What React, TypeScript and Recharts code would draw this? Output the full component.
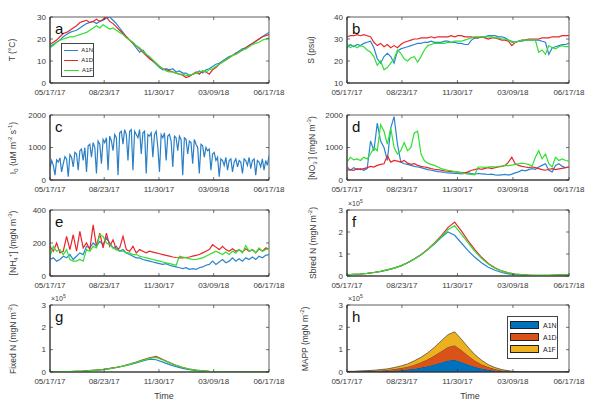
import React from "react";
import {
	ComposedChart,
	Line,
	Area,
	XAxis,
	YAxis,
	ReferenceArea,
	Legend,
} from "recharts";

const FONT = "'Liberation Sans', Arial, sans-serif";

const tickDays = [0, 98, 197, 296, 396];
const tickLabels = ["05/17/17", "08/23/17", "11/30/17", "03/09/18", "06/17/18"];
const seriesNames = ["A1N", "A1D", "A1F"];
const lineColors = ["#2a84d2", "#e8262b", "#2fe02f"];
const areaColors = ["#0072BD", "#D95319", "#EDB120"];

// 6-day sampling, days 0..396
const tempA1N = [16.5, 17.5, 18.5, 19.5, 21, 22, 23, 23.5, 24, 25, 26, 27, 27.5, 28, 27, 28, 28.5, 29.5, 30, 28.5, 27, 25, 23, 21, 19.5, 18, 16, 14, 15, 13, 11.5, 10, 8.5, 7, 6, 6.5, 6, 6.5, 5, 5.5, 4.5, 4.5, 3.5, 4, 4.5, 5.5, 4.5, 6, 6.5, 7.5, 8.5, 9, 10, 11, 12, 12.5, 13.5, 14.5, 15.5, 16, 17, 18, 19, 20, 21, 22, 23];
const tempA1D = [17.5, 18.5, 19.5, 21, 22.5, 23, 24, 25, 26, 27.5, 28, 28.5, 27.5, 28, 29, 28, 29, 30, 28, 27, 25.5, 24, 22.5, 21, 19.5, 18, 17, 15.5, 14, 12.5, 11, 10, 9, 7.5, 6.5, 6, 5.5, 5, 4.5, 4, 3.5, 2.5, 3, 4, 5, 4, 5.5, 5, 4, 6, 7, 8.5, 9.5, 10.5, 11.5, 12.5, 13.5, 14, 15, 16, 17, 18, 19, 20, 21, 21.5, 22];
const tempA1F = [16, 17, 18.5, 19.5, 20, 20.5, 21, 21, 21.5, 22, 22.5, 23, 24, 25, 26, 25, 26.5, 25.5, 24.5, 25, 24, 23, 22, 20.5, 19.5, 18.5, 17, 16, 14.5, 13, 12, 10.5, 9, 7.5, 6.5, 5.5, 5, 5, 4.5, 4, 4, 3.5, 3.5, 4, 4.5, 5, 5.5, 5, 6, 6.5, 7.5, 8.5, 9.5, 10.5, 11.5, 12.5, 13, 14, 15, 15.5, 16.5, 17.5, 18, 18.5, 19.5, 20, 20.5];

const salA1N = [26, 27.5, 26.5, 27.5, 27, 28, 28.5, 29, 26, 21, 19, 22, 23.5, 22, 19, 24.5, 25.5, 26, 26.5, 27, 27.5, 28, 28, 28.5, 28.5, 29, 28.5, 28.5, 28.5, 29, 29, 28.5, 28.5, 28, 28, 27.5, 27.5, 29.5, 30.5, 30.5, 31, 31, 31.5, 31.5, 31.5, 31, 31, 30.5, 29.5, 29, 28.5, 29, 29, 29.5, 29.5, 29.5, 29.5, 29.5, 29, 28.5, 23, 26, 26.5, 27, 27.5, 27.5, 28];
const salA1D = [31, 31.5, 31.5, 32, 31.5, 32, 31.5, 31, 28.5, 27, 28, 26.5, 27.5, 26, 27, 26, 27.5, 28.5, 29, 29.5, 30, 30, 30.5, 30.5, 30.5, 31, 30.5, 31, 31, 31, 31, 31.5, 31, 31.5, 31.5, 31, 31, 31, 30.5, 30.5, 31, 30.5, 30, 30.5, 30.5, 30, 29.5, 29.5, 29, 27, 28.5, 29, 29.5, 29.5, 30, 30, 30, 30, 30.5, 30.5, 30.5, 31, 31, 31, 31.5, 31.5, 31.5];
const salA1F = [28, 26, 27, 26, 27, 26.5, 25, 24, 22, 18, 20, 16, 17, 19, 21, 25, 23.5, 21, 20, 21.5, 22, 19.5, 22, 25, 27, 27.5, 28, 28, 28, 28, 28.5, 28.5, 29, 29, 29, 29.5, 30, 30.5, 31, 31, 31, 31, 31, 31, 30.5, 30.5, 30, 30, 29.5, 28.5, 28.5, 29, 29.5, 29.5, 29.5, 29.5, 29.5, 24, 25, 23, 27, 26, 25.5, 26.5, 27, 26.5, 26.5];

// 3-day sampling, days 0..396
const lightI0 = [
	350, 600, 450, 150, 620, 550, 680, 250, 500, 720, 650,
	100, 780, 700, 400, 850, 800, 300, 900, 950, 600,
	1000, 250, 1050, 1100, 700, 1150, 1000, 200, 1200, 1100,
	500, 1250, 1150, 1300, 300, 1350, 1200, 900, 1400, 1300,
	150, 1450, 1500, 1100, 1550, 1400, 600, 1500, 1550, 300,
	1500, 1400, 1300, 1550, 800, 1450, 1500, 200, 1400, 1350,
	1450, 700, 1400, 1500, 1000, 250, 1400, 1300, 1450, 600,
	1350, 1400, 1200, 400, 1350, 1300, 900, 1350, 1250, 150,
	1300, 1250, 800, 1200, 1150, 500, 1250, 1100, 1000, 200,
	1100, 1050, 700, 1000, 900, 950, 300, 800, 850, 600,
	700, 100, 650, 600, 450, 700, 300, 600, 650, 250,
	550, 650, 400, 600, 550, 200, 650, 600, 450, 700,
	350, 600, 650, 150, 600, 550, 400, 650, 300, 600, 450, 750,
];

const no3A1N = [400, 300, 380, 320, 350, 300, 350, 1200, 900, 1750, 1200, 1000, 600, 1600, 1950, 1100, 550, 500, 480, 450, 420, 400, 380, 350, 320, 300, 280, 260, 250, 230, 220, 210, 200, 200, 190, 200, 220, 200, 180, 200, 190, 180, 170, 180, 160, 150, 160, 170, 150, 180, 220, 250, 300, 280, 320, 350, 330, 400, 450, 500, 300, 250, 450, 500, 420, 380, 400];
const no3A1D = [300, 320, 300, 350, 320, 350, 380, 420, 400, 450, 480, 500, 750, 550, 600, 580, 550, 600, 520, 480, 500, 450, 420, 400, 380, 350, 330, 320, 300, 280, 270, 260, 250, 240, 230, 220, 250, 300, 320, 350, 330, 360, 380, 350, 380, 400, 420, 450, 550, 700, 500, 450, 420, 400, 380, 400, 380, 350, 320, 300, 330, 350, 320, 340, 360, 380, 400];
const no3A1F = [550, 700, 620, 650, 600, 700, 650, 800, 1000, 900, 1700, 1500, 1100, 1600, 1000, 800, 900, 1150, 900, 1000, 1450, 1500, 800, 600, 520, 480, 450, 400, 350, 320, 300, 280, 260, 240, 220, 200, 180, 170, 160, 400, 400, 390, 400, 410, 400, 420, 430, 450, 440, 460, 480, 500, 520, 500, 480, 420, 700, 900, 650, 800, 500, 400, 700, 600, 650, 600, 580];

const nh4A1N = [100, 110, 90, 100, 120, 110, 130, 100, 120, 140, 130, 180, 170, 200, 180, 210, 190, 230, 200, 170, 180, 150, 160, 140, 130, 120, 110, 110, 100, 95, 90, 85, 80, 75, 70, 75, 65, 60, 55, 50, 45, 50, 40, 45, 40, 50, 55, 65, 70, 90, 70, 85, 100, 80, 90, 110, 90, 105, 90, 110, 100, 115, 100, 120, 110, 125, 130];
const nh4A1D = [180, 150, 200, 140, 150, 240, 160, 250, 150, 270, 170, 200, 160, 310, 180, 260, 170, 260, 180, 220, 160, 170, 240, 160, 150, 180, 140, 160, 150, 140, 150, 145, 140, 135, 130, 125, 120, 115, 112, 110, 110, 112, 115, 120, 125, 130, 140, 150, 160, 190, 175, 160, 180, 160, 150, 165, 150, 160, 145, 165, 150, 160, 140, 165, 150, 170, 165];
const nh4A1F = [120, 180, 150, 160, 130, 160, 100, 90, 90, 100, 90, 160, 150, 180, 170, 250, 240, 200, 190, 170, 160, 150, 150, 140, 140, 130, 130, 120, 115, 110, 105, 100, 95, 90, 85, 80, 75, 70, 65, 120, 115, 110, 105, 100, 100, 105, 110, 120, 130, 140, 150, 140, 130, 145, 130, 150, 140, 160, 140, 185, 150, 160, 140, 170, 150, 160, 165];

// 12-day sampling, days 0..396, in units of 10^5 mgN m^-2
const sbredA1N = [0.05, 0.07, 0.09, 0.12, 0.16, 0.21, 0.28, 0.36, 0.46, 0.6, 0.77, 0.96, 1.2, 1.45, 1.75, 2.0, 1.85, 1.5, 1.15, 0.85, 0.6, 0.4, 0.26, 0.16, 0.1, 0.06, 0.04, 0.03, 0.02, 0.02, 0.02, 0.03, 0.04, 0.05];
const sbredA1D = [0.05, 0.07, 0.09, 0.12, 0.16, 0.21, 0.28, 0.36, 0.46, 0.6, 0.77, 0.97, 1.22, 1.5, 1.82, 2.2, 2.45, 2.05, 1.6, 1.2, 0.85, 0.57, 0.37, 0.23, 0.14, 0.09, 0.06, 0.04, 0.03, 0.03, 0.03, 0.04, 0.05, 0.06];
const sbredA1F = [0.05, 0.07, 0.09, 0.12, 0.16, 0.21, 0.28, 0.36, 0.46, 0.6, 0.77, 0.96, 1.2, 1.48, 1.78, 2.1, 2.28, 1.9, 1.5, 1.12, 0.8, 0.54, 0.35, 0.22, 0.14, 0.09, 0.06, 0.04, 0.03, 0.03, 0.03, 0.04, 0.05, 0.06];

const fixedA1N = [0.01, 0.01, 0.02, 0.02, 0.03, 0.04, 0.06, 0.08, 0.11, 0.15, 0.2, 0.26, 0.33, 0.41, 0.5, 0.58, 0.55, 0.44, 0.33, 0.24, 0.16, 0.1, 0.06, 0.04, 0.02, 0.01, 0.01, 0, 0, 0, 0, 0, 0, 0];
const fixedA1D = [0.01, 0.01, 0.02, 0.02, 0.03, 0.04, 0.06, 0.09, 0.12, 0.16, 0.21, 0.27, 0.35, 0.44, 0.54, 0.64, 0.7, 0.56, 0.42, 0.3, 0.2, 0.13, 0.08, 0.05, 0.03, 0.02, 0.01, 0.01, 0, 0, 0, 0, 0, 0];
const fixedA1F = [0.01, 0.01, 0.02, 0.02, 0.03, 0.04, 0.06, 0.08, 0.11, 0.15, 0.2, 0.26, 0.34, 0.43, 0.52, 0.61, 0.65, 0.54, 0.41, 0.3, 0.2, 0.13, 0.08, 0.05, 0.03, 0.02, 0.01, 0.01, 0, 0, 0, 0, 0, 0];

const mappA1N = [0.01, 0.01, 0.01, 0.02, 0.02, 0.03, 0.04, 0.06, 0.08, 0.11, 0.15, 0.2, 0.26, 0.34, 0.43, 0.52, 0.55, 0.45, 0.34, 0.24, 0.16, 0.1, 0.06, 0.03, 0.015, 0.005, 0, 0, 0, 0, 0, 0, 0, 0];
const mappA1D = [0.01, 0.01, 0.02, 0.02, 0.03, 0.04, 0.05, 0.07, 0.1, 0.13, 0.18, 0.24, 0.31, 0.4, 0.5, 0.6, 0.65, 0.53, 0.4, 0.28, 0.19, 0.12, 0.07, 0.04, 0.02, 0.006, 0, 0, 0, 0, 0, 0, 0, 0];
const mappA1F = [0.01, 0.01, 0.02, 0.02, 0.03, 0.04, 0.05, 0.07, 0.09, 0.12, 0.17, 0.22, 0.29, 0.37, 0.46, 0.55, 0.6, 0.49, 0.37, 0.26, 0.18, 0.11, 0.07, 0.04, 0.02, 0.006, 0, 0, 0, 0, 0, 0, 0, 0];

type Row = Record<string, number>;

function buildRows(step: number, series: number[][]): Row[] {
	return series[0].map((_, i) => {
		const row: Row = { day: i * step };
		series.forEach((values, k) => {
			row[seriesNames[k]] = values[i];
		});
		return row;
	});
}

const rowTop = [17, 115, 210, 305];
const rowHeight = [66, 65, 66, 67];
const columns = [
	{ left: 0, right: 297, plotLeft: 50, plotRight: 269 },
	{ left: 297, right: 595, plotLeft: 347, plotRight: 569 },
];
const PAD_TOP = 10;
const X_AXIS_H = 18;
const AXIS_COLOR = "#333";
const TEXT_COLOR = "#3a3a3a";

function LineLegend() {
	return (
		<div
			style={{
				width: 33,
				border: "1px solid #444",
				background: "#fff",
				boxSizing: "border-box",
				padding: "1px 0",
				fontFamily: FONT,
				fontSize: 6,
				color: "#222",
			}}
		>
			{seriesNames.map((name, i) => (
				<div key={name} style={{ display: "flex", alignItems: "center", height: 10 }}>
					<span
						style={{
							display: "inline-block",
							width: 15,
							marginLeft: 2,
							marginRight: 3,
							borderTop: `1.3px solid ${lineColors[i]}`,
						}}
					/>
					<span>{name}</span>
				</div>
			))}
		</div>
	);
}

function AreaLegend() {
	return (
		<div
			style={{
				width: 51,
				height: 43,
				border: "1px solid #444",
				background: "#fff",
				boxSizing: "border-box",
				padding: "2px 0",
				fontFamily: FONT,
				fontSize: 7,
				color: "#222",
			}}
		>
			{seriesNames.map((name, i) => (
				<div key={name} style={{ display: "flex", alignItems: "center", height: 12 }}>
					<span
						style={{
							display: "inline-block",
							width: 29,
							height: 8,
							marginLeft: 2,
							marginRight: 4,
							background: areaColors[i],
							border: "0.5px solid #222",
							boxSizing: "border-box",
						}}
					/>
					<span>{name}</span>
				</div>
			))}
		</div>
	);
}

type PanelProps = {
	letter: string;
	col: 0 | 1;
	row: number;
	data: Row[];
	count: number;
	domain: [number, number];
	yTicks: number[];
	yLabel: React.ReactNode;
	labelX: number;
	colors?: string[];
	stacked?: boolean;
	exponent?: boolean;
	legend?: "line" | "area";
	time?: number;
};

function Panel({
	letter,
	col,
	row,
	data,
	count,
	domain,
	yTicks,
	yLabel,
	labelX,
	colors = lineColors,
	stacked,
	exponent,
	legend,
	time,
}: PanelProps): JSX.Element {
	const g = columns[col];
	const top = rowTop[row];
	const h = rowHeight[row];
	const plotW = g.plotRight - g.plotLeft;
	const keys = seriesNames.slice(0, count);

	const xTick = (props: any) => {
		const { x, y, payload } = props;
		const label = tickLabels[tickDays.indexOf(payload.value)] ?? "";
		return (
			<g>
				<line x1={x} y1={y} x2={x} y2={y - 3} stroke={AXIS_COLOR} strokeWidth={0.7} />
				<line x1={x} y1={y - h} x2={x} y2={y - h + 3} stroke={AXIS_COLOR} strokeWidth={0.7} />
				<text x={x} y={y + 11.5} textAnchor="middle" fontSize={8} fontFamily={FONT} fill={TEXT_COLOR}>
					{label}
				</text>
			</g>
		);
	};

	const yTick = (props: any) => {
		const { x, y, payload } = props;
		return (
			<g>
				<line x1={x} y1={y} x2={x + 3} y2={y} stroke={AXIS_COLOR} strokeWidth={0.7} />
				<line x1={x + plotW} y1={y} x2={x + plotW - 3} y2={y} stroke={AXIS_COLOR} strokeWidth={0.7} />
				<text x={x - 4} y={y + 2.5} textAnchor="end" fontSize={8} fontFamily={FONT} fill={TEXT_COLOR}>
					{payload.value}
				</text>
			</g>
		);
	};

	return (
		<>
			<div style={{ position: "absolute", left: g.left, top: top - PAD_TOP }}>
				<ComposedChart
					width={g.right - g.left}
					height={PAD_TOP + h + X_AXIS_H}
					data={data}
					margin={{ top: PAD_TOP, right: g.right - g.plotRight, bottom: 0, left: 0 }}
				>
					<XAxis
						dataKey="day"
						type="number"
						domain={[0, 396]}
						ticks={tickDays}
						interval={0}
						height={X_AXIS_H}
						tickSize={0}
						tickMargin={0}
						tickLine={false}
						axisLine={{ stroke: AXIS_COLOR }}
						tick={xTick}
						allowDataOverflow
					/>
					<YAxis
						type="number"
						domain={domain}
						ticks={yTicks}
						interval={0}
						width={g.plotLeft - g.left}
						tickSize={0}
						tickMargin={0}
						tickLine={false}
						axisLine={{ stroke: AXIS_COLOR }}
						tick={yTick}
						allowDataOverflow
					/>
					{keys.map((key, i) =>
						stacked ? (
							<Area
								key={key}
								dataKey={key}
								type="linear"
								stackId="mapp"
								fill={areaColors[i]}
								fillOpacity={1}
								stroke="#222"
								strokeWidth={0.6}
								isAnimationActive={false}
							/>
						) : (
							<Line
								key={key}
								dataKey={key}
								type="linear"
								stroke={colors[i]}
								strokeWidth={1.2}
								dot={false}
								isAnimationActive={false}
							/>
						),
					)}
					<ReferenceArea
						x1={0}
						x2={396}
						y1={domain[0]}
						y2={domain[1]}
						fill="none"
						stroke={AXIS_COLOR}
						strokeWidth={0.8}
					/>
					{legend && (
						<Legend
							layout="vertical"
							align="center"
							verticalAlign="middle"
							content={legend === "line" ? <LineLegend /> : <AreaLegend />}
							wrapperStyle={
								legend === "line"
									? { left: 61, top: 43 - top + PAD_TOP, width: "auto", height: "auto" }
									: { left: 507 - g.left, top: 316 - top + PAD_TOP, width: "auto", height: "auto" }
							}
						/>
					)}
				</ComposedChart>
			</div>
			<div
				style={{
					position: "absolute",
					left: labelX,
					top: top + h / 2,
					transform: "translate(-50%, -50%) rotate(-90deg)",
					whiteSpace: "nowrap",
					fontFamily: FONT,
					fontSize: 8.5,
					lineHeight: 1,
					color: TEXT_COLOR,
				}}
			>
				{yLabel}
			</div>
			<div
				style={{
					position: "absolute",
					left: g.plotLeft + 5,
					top: top + 3.5,
					fontFamily: FONT,
					fontSize: 15,
					lineHeight: 1,
					color: "#111",
				}}
			>
				{letter}
			</div>
			{exponent && (
				<div
					style={{
						position: "absolute",
						left: g.plotLeft + 1,
						top: top - 11,
						fontFamily: FONT,
						fontSize: 7,
						lineHeight: 1,
						color: TEXT_COLOR,
					}}
				>
					×10<sup style={{ fontSize: 5 }}>5</sup>
				</div>
			)}
			{time !== undefined && (
				<div
					style={{
						position: "absolute",
						left: time,
						top: 396,
						transform: "translate(-50%, -50%)",
						fontFamily: FONT,
						fontSize: 9,
						color: TEXT_COLOR,
					}}
				>
					Time
				</div>
			)}
		</>
	);
}

const sup = (s: string) => <sup style={{ fontSize: 6 }}>{s}</sup>;
const sub = (s: string) => <sub style={{ fontSize: 6 }}>{s}</sub>;

export default function App(): JSX.Element {
	const tempRows = buildRows(6, [tempA1N, tempA1D, tempA1F]);
	const salRows = buildRows(6, [salA1N, salA1D, salA1F]);
	const lightRows = buildRows(3, [lightI0]);
	const no3Rows = buildRows(6, [no3A1N, no3A1D, no3A1F]);
	const nh4Rows = buildRows(6, [nh4A1N, nh4A1D, nh4A1F]);
	const sbredRows = buildRows(12, [sbredA1N, sbredA1D, sbredA1F]);
	const fixedRows = buildRows(12, [fixedA1N, fixedA1D, fixedA1F]);
	const mappRows = buildRows(12, [mappA1N, mappA1D, mappA1F]);

	return (
		<div
			style={{
				position: "absolute",
				left: 0,
				top: 0,
				width: 595,
				height: 409,
				background: "#fff",
				overflow: "hidden",
			}}
		>
			<Panel letter="a" col={0} row={0} data={tempRows} count={3} domain={[0, 30]} yTicks={[0, 10, 20, 30]} yLabel={<>T (°C)</>} labelX={12} legend="line" />
			<Panel letter="b" col={1} row={0} data={salRows} count={3} domain={[10, 40]} yTicks={[10, 20, 30, 40]} yLabel={<>S (psu)</>} labelX={311} />
			<Panel
				letter="c"
				col={0}
				row={1}
				data={lightRows}
				count={1}
				colors={["#2a7fc6"]}
				domain={[0, 2000]}
				yTicks={[0, 1000, 2000]}
				yLabel={<>I{sub("0")} (uM m{sup("-2")} s{sup("-1")})</>}
				labelX={13}
			/>
			<Panel
				letter="d"
				col={1}
				row={1}
				data={no3Rows}
				count={3}
				domain={[0, 2000]}
				yTicks={[0, 1000, 2000]}
				yLabel={<>[NO{sub("3")}{sup("-")}] (mgN m{sup("-3")})</>}
				labelX={312}
			/>
			<Panel
				letter="e"
				col={0}
				row={2}
				data={nh4Rows}
				count={3}
				domain={[0, 400]}
				yTicks={[0, 200, 400]}
				yLabel={<>[NH{sub("4")}{sup("+")}] (mgN m{sup("-3")})</>}
				labelX={13}
			/>
			<Panel
				letter="f"
				col={1}
				row={2}
				data={sbredRows}
				count={3}
				domain={[0, 3]}
				yTicks={[0, 1, 2, 3]}
				yLabel={<>Sbred N (mgN m{sup("-2")})</>}
				labelX={312}
				exponent
			/>
			<Panel
				letter="g"
				col={0}
				row={3}
				data={fixedRows}
				count={3}
				domain={[0, 3]}
				yTicks={[0, 1, 2, 3]}
				yLabel={<>Fixed N (mgN m{sup("-2")})</>}
				labelX={12}
				exponent
				time={164}
			/>
			<Panel
				letter="h"
				col={1}
				row={3}
				data={mappRows}
				count={3}
				domain={[0, 3]}
				yTicks={[0, 1, 2, 3]}
				yLabel={<>MAPP (mgN m{sup("-2")})</>}
				labelX={304}
				stacked
				exponent
				legend="area"
				time={470}
			/>
		</div>
	);
}
